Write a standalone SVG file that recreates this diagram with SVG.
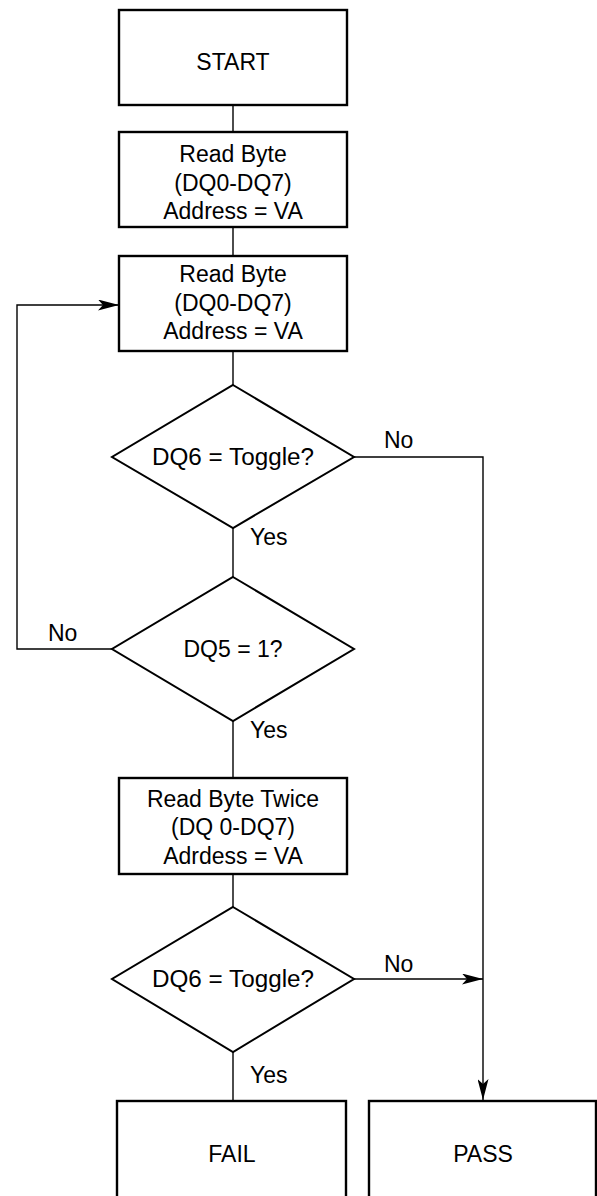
<svg xmlns="http://www.w3.org/2000/svg" width="597" height="1196" viewBox="0 0 597 1196">
<style>
.box{fill:#fff;stroke:#000;stroke-width:2.4}
.dia{fill:#fff;stroke:#000;stroke-width:2}
.con{fill:none;stroke:#000;stroke-width:1.4}
text{font-family:"Liberation Sans",Arial,Helvetica,sans-serif;font-size:23px;fill:#000;text-anchor:middle}
.lbl{text-anchor:start}
</style>
<defs>
<marker id="arr" viewBox="0 0 21 11" refX="21" refY="5.5" markerWidth="21" markerHeight="11" markerUnits="userSpaceOnUse" orient="auto">
<path d="M0,0 L21,5.5 L0,11 L5,5.5 Z" fill="#000"/>
</marker>
</defs>
<rect width="597" height="1196" fill="#fff"/>
<g id="connectors">
<line class="con" x1="233" y1="105" x2="233" y2="132"/>
<line class="con" x1="233" y1="227" x2="233" y2="256"/>
<line class="con" x1="233" y1="351" x2="233" y2="385"/>
<line class="con" x1="233" y1="528" x2="233" y2="577"/>
<line class="con" x1="233" y1="721" x2="233" y2="778"/>
<line class="con" x1="233" y1="874" x2="233" y2="907"/>
<line class="con" x1="233" y1="1052" x2="233" y2="1101"/>
<polyline class="con" points="112,649 17,649 17,305 119,305" marker-end="url(#arr)"/>
<polyline class="con" points="354,457 483,457 483,1100" marker-end="url(#arr)"/>
<line class="con" x1="354" y1="979" x2="483" y2="979" marker-end="url(#arr)"/>
<text class="lbl" x="384" y="448">No</text>
<text class="lbl" x="250" y="545">Yes</text>
<text class="lbl" x="48" y="641">No</text>
<text class="lbl" x="250" y="738">Yes</text>
<text class="lbl" x="384" y="972">No</text>
<text class="lbl" x="250" y="1083">Yes</text>
</g>
<g id="start">
<rect class="box" x="119" y="10" width="228" height="95"/>
<text x="233" y="70">START</text>
</g>
<g id="read1">
<rect class="box" x="119" y="132" width="228" height="95"/>
<text x="233" y="162">Read Byte</text>
<text x="233" y="191">(DQ0-DQ7)</text>
<text x="233" y="219">Address = VA</text>
</g>
<g id="read2">
<rect class="box" x="119" y="256" width="228" height="95"/>
<text x="233" y="282">Read Byte</text>
<text x="233" y="311">(DQ0-DQ7)</text>
<text x="233" y="339">Address = VA</text>
</g>
<g id="dq6a">
<polygon class="dia" points="233,385 354,457 233,528 112,457"/>
<text x="233" y="465" textLength="162" lengthAdjust="spacingAndGlyphs">DQ6 = Toggle?</text>
</g>
<g id="dq5">
<polygon class="dia" points="233,577 354,649 233,721 112,649"/>
<text x="233" y="657">DQ5 = 1?</text>
</g>
<g id="read3">
<rect class="box" x="119" y="778" width="228" height="96"/>
<text x="233" y="807">Read Byte Twice</text>
<text x="233" y="835">(DQ 0-DQ7)</text>
<text x="233" y="864">Adrdess = VA</text>
</g>
<g id="dq6b">
<polygon class="dia" points="233,907 354,979 233,1052 112,979"/>
<text x="233" y="987" textLength="162" lengthAdjust="spacingAndGlyphs">DQ6 = Toggle?</text>
</g>
<g id="fail">
<rect class="box" x="117" y="1101" width="229" height="110"/>
<text x="232" y="1162">FAIL</text>
</g>
<g id="pass">
<rect class="box" x="369" y="1101" width="227" height="110"/>
<text x="483" y="1162">PASS</text>
</g>
</svg>
